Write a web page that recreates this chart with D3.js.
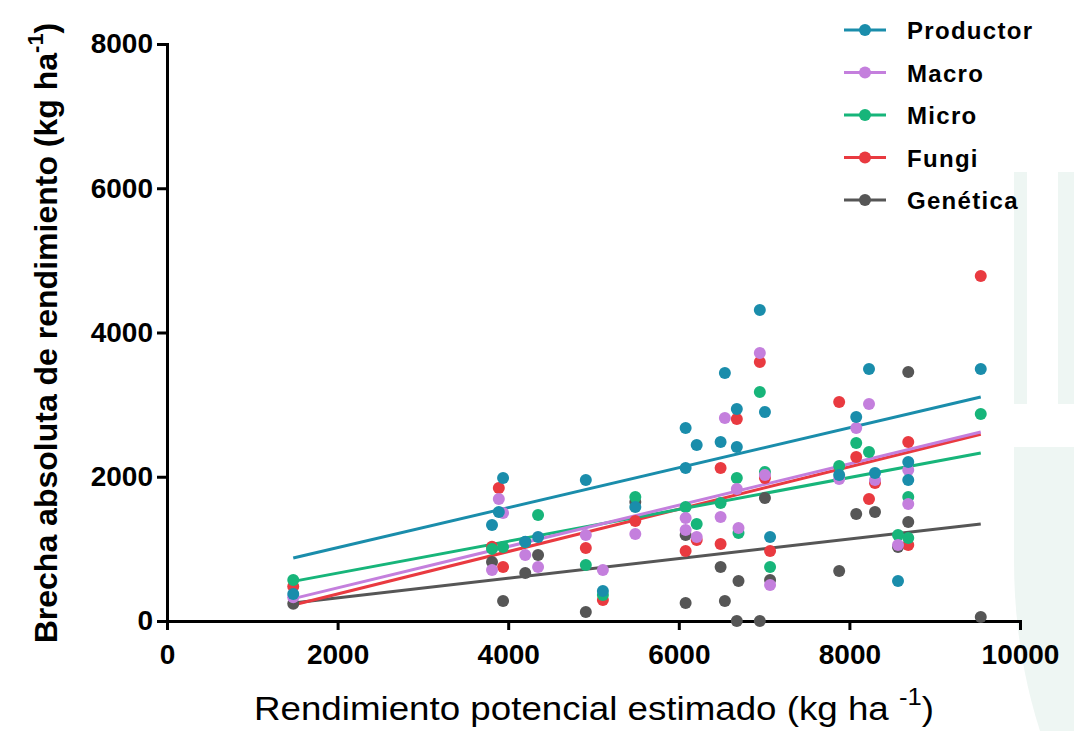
<!DOCTYPE html>
<html>
<head>
<meta charset="utf-8">
<script src="https://cdn.jsdelivr.net/npm/d3@7"></script>
<style>
  body { margin: 0; background: #fff; }
  text { font-family: "Liberation Sans", Arial, sans-serif; }
</style>
</head>
<body>
<svg id="chart" width="1074" height="731"></svg>
<script>
// series names + colors
const seriesNames = ["Productor", "Macro", "Micro", "Fungi", "Genética"];
const seriesColors = ["#1a8dab", "#c47fdd", "#17b57a", "#e93a40", "#565656"];

// points [rendimiento potencial, brecha]
const productor = [[1480,375],[3810,1331],[3890,1511],[3940,1983],[4200,1100],[4350,1165],[4910,1955],[5110,416],
  [5490,1581],[6080,2676],[6210,2440],[6080,2121],[6540,3439],[6490,2482],[6680,2939],[6680,2413],[6950,4312],
  [7010,2898],[7070,1165],[7880,2024],[8080,2828],[8230,3494],[8300,2052],[8570,555],[8690,2205],[8690,1955],[9540,3494]];
const macro = [[1480,330],[3810,707],[3890,1692],[3940,1497],[4200,915],[4350,749],[4910,1192],[5110,707],[5490,1206],
  [6080,1428],[6080,1262],[6210,1165],[6540,2815],[6490,1442],[6680,1830],[6700,1289],[6950,3716],[7010,2024],
  [7070,499],[7880,1969],[8080,2676],[8230,3009],[8300,1955],[8570,1054],[8690,2094],[8690,1622]];
const micro = [[1480,570],[3810,1000],[3940,1026],[4200,1095],[4350,1470],[4910,776],[5110,360],[5490,1719],
  [6080,1581],[6210,1345],[6490,1636],[6680,1983],[6700,1220],[6950,3175],[7010,2066],[7070,749],[7880,2149],
  [8080,2468],[8230,2343],[8570,1192],[8690,1719],[8690,1151],[9540,2870]];
const fungi = [[1480,480],[3810,1030],[3890,1844],[3940,749],[4910,1012],[5110,291],[5490,1387],[6080,971],
  [6210,1123],[6490,2121],[6490,1068],[6680,2801],[6950,3591],[7010,1983],[7070,971],[7880,3036],[8080,2274],
  [8230,1692],[8300,1913],[8690,2482],[8690,1054],[9540,4783]];
const genetica = [[1480,240],[3810,818],[3940,277],[4200,666],[4350,915],[4910,125],[5490,1650],[6080,1192],
  [6080,250],[6540,277],[6490,749],[6700,555],[6680,0],[6950,0],[7010,1705],[7070,568],[7880,693],[8080,1484],
  [8300,1511],[8570,1026],[8690,3452],[8690,1373],[9540,55]];

// fitted lines [intercept, slope], as drawn on the figure
const fits = [[463, 0.277], [-114, 0.2866], [223, 0.2207], [-213, 0.2938], [49, 0.1359]];
const fitRange = [1480, 9540];

const xTicks = [0, 2000, 4000, 6000, 8000, 10000];
const yTicks = [0, 2000, 4000, 6000, 8000];

const allSeries = [productor, macro, micro, fungi, genetica];

const svg = d3.select("#chart");
const margin = {left: 167, top: 44, right: 54, bottom: 110};
const width = 1074 - margin.left - margin.right;
const height = 731 - margin.top - margin.bottom;

// faint background shapes on right edge
const bg = svg.append("g").attr("fill", "#eef6f3");
bg.append("rect").attr("x", 1014).attr("y", 172).attr("width", 13).attr("height", 232);
bg.append("rect").attr("x", 1058).attr("y", 172).attr("width", 16).attr("height", 232);
bg.append("path").attr("d", "M1014,447 L1074,447 L1074,731 L1040,731 Q1014,650 1014,560 Z");

const x = d3.scaleLinear().domain([0, 10000]).range([0, width]);
const y = d3.scaleLinear().domain([0, 8000]).range([height, 0]);

const g = svg.append("g").attr("transform", `translate(${margin.left},${margin.top})`);

// axes
const xAxis = g.append("g")
    .attr("transform", `translate(0,${height})`)
    .call(d3.axisBottom(x).tickValues(xTicks).tickSize(9).tickPadding(14).tickFormat(d3.format("d")));
const yAxis = g.append("g")
    .call(d3.axisLeft(y).tickValues(yTicks).tickSize(10).tickPadding(4).tickFormat(d3.format("d")));

[xAxis, yAxis].forEach(function(a) {
  a.select(".domain").attr("stroke", "#000").attr("stroke-width", 3);
  a.selectAll(".tick line").attr("stroke", "#000").attr("stroke-width", 3);
  a.selectAll(".tick text").attr("fill", "#000").attr("font-size", 28).attr("font-weight", "bold")
    .attr("font-family", "Liberation Sans, Arial, sans-serif");
});

// regression lines
const line = d3.line().x(d => x(d[0])).y(d => y(d[1]));
const drawOrder = [4, 3, 2, 1, 0];
drawOrder.forEach(function(i) {
  const f = fits[i];
  const pts = fitRange.map(v => [v, f[0] + f[1] * v]);
  g.append("path").datum(pts)
    .attr("d", line)
    .attr("fill", "none")
    .attr("stroke", seriesColors[i])
    .attr("stroke-width", 3);
});

// points
drawOrder.forEach(function(i) {
  g.append("g").selectAll("circle")
    .data(allSeries[i]).enter()
    .append("circle")
      .attr("cx", d => x(d[0]))
      .attr("cy", d => y(d[1]))
      .attr("r", 6)
      .attr("fill", seriesColors[i]);
});

// axis titles
svg.append("text")
  .attr("transform", "translate(57,333) rotate(-90)")
  .attr("text-anchor", "middle")
  .attr("font-size", 32)
  .attr("font-weight", "bold")
  .html('Brecha absoluta de rendimiento (kg ha<tspan dy="-14" font-size="22">-1</tspan><tspan dy="14">)</tspan>');

svg.append("text")
  .attr("x", 594)
  .attr("y", 720)
  .attr("text-anchor", "middle")
  .attr("font-size", 33)
  .attr("textLength", 680)
  .attr("lengthAdjust", "spacingAndGlyphs")
  .html('Rendimiento potencial estimado (kg ha <tspan dy="-15" font-size="23">-1</tspan><tspan dy="15">)</tspan>');

// legend
const legend = svg.append("g").attr("transform", "translate(844,30)");
seriesNames.forEach(function(name, i) {
  const row = legend.append("g").attr("transform", `translate(0,${i * 42.5})`);
  row.append("line").attr("x1", 0).attr("x2", 42).attr("y1", 0).attr("y2", 0)
    .attr("stroke", seriesColors[i]).attr("stroke-width", 3);
  row.append("circle").attr("cx", 21).attr("cy", 0).attr("r", 6).attr("fill", seriesColors[i]);
  row.append("text").attr("x", 63).attr("y", 9)
    .attr("font-size", 24).attr("font-weight", "bold").attr("letter-spacing", 1.3)
    .text(name);
});
</script>
</body>
</html>
